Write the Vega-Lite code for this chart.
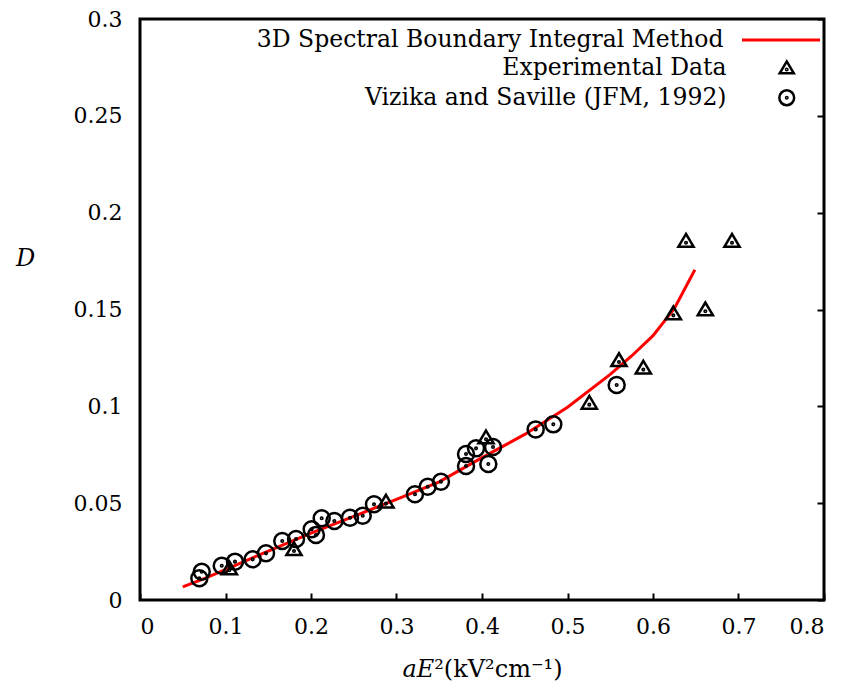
{
  "$schema": "https://vega.github.io/schema/vega-lite/v6.json",
  "width": 684,
  "height": 581,
  "autosize": {"type": "none"},
  "padding": {"left": 140, "top": 19, "right": 26, "bottom": 90},
  "background": "white",
  "config": {
    "view": {"stroke": "#000000", "strokeWidth": 3},
    "axis": {"grid": true, "gridColor": "#000000", "gridOpacity": 1, "gridWidth": 2, "gridDash": [7, 2000], "domain": false, "ticks": false, "tickSize": 0, "labelColor": "#000000", "titleColor": "#000000", "labelFont": "DejaVu Serif", "titleFont": "DejaVu Serif", "labelFontSize": 22, "titleFontSize": 24, "titleFontWeight": "normal"},
    "legend": {"labelFont": "DejaVu Serif", "labelFontSize": 23.5, "labelColor": "#000000", "padding": 0, "title": null}
  },
  "datasets": {
    "curve": [
      {"x": 0.05, "D": 0.0068}, {"x": 0.075, "D": 0.011}, {"x": 0.1, "D": 0.0157},
      {"x": 0.15, "D": 0.0253}, {"x": 0.2, "D": 0.0345}, {"x": 0.25, "D": 0.0432},
      {"x": 0.3, "D": 0.052}, {"x": 0.35, "D": 0.061}, {"x": 0.4, "D": 0.0735},
      {"x": 0.45, "D": 0.0855}, {"x": 0.5, "D": 0.0995}, {"x": 0.55, "D": 0.1165},
      {"x": 0.575, "D": 0.126}, {"x": 0.6, "D": 0.1365}, {"x": 0.625, "D": 0.1505},
      {"x": 0.649, "D": 0.1705}
    ],
    "points": [
      {"series": "Experimental Data", "x": 0.1045, "D": 0.0164},
      {"series": "Experimental Data", "x": 0.1801, "D": 0.0263},
      {"series": "Experimental Data", "x": 0.2877, "D": 0.0508},
      {"series": "Experimental Data", "x": 0.4047, "D": 0.084},
      {"series": "Experimental Data", "x": 0.5255, "D": 0.1019},
      {"series": "Experimental Data", "x": 0.5602, "D": 0.1239},
      {"series": "Experimental Data", "x": 0.5887, "D": 0.12},
      {"series": "Experimental Data", "x": 0.6238, "D": 0.148},
      {"series": "Experimental Data", "x": 0.6612, "D": 0.1501},
      {"series": "Experimental Data", "x": 0.6386, "D": 0.1855},
      {"series": "Experimental Data", "x": 0.6924, "D": 0.1855},
      {"series": "Vizika and Saville (JFM, 1992)", "x": 0.0694, "D": 0.0112},
      {"series": "Vizika and Saville (JFM, 1992)", "x": 0.0722, "D": 0.0146},
      {"series": "Vizika and Saville (JFM, 1992)", "x": 0.0956, "D": 0.0177},
      {"series": "Vizika and Saville (JFM, 1992)", "x": 0.1111, "D": 0.0198},
      {"series": "Vizika and Saville (JFM, 1992)", "x": 0.1318, "D": 0.021},
      {"series": "Vizika and Saville (JFM, 1992)", "x": 0.1474, "D": 0.0241},
      {"series": "Vizika and Saville (JFM, 1992)", "x": 0.1664, "D": 0.0305},
      {"series": "Vizika and Saville (JFM, 1992)", "x": 0.1825, "D": 0.0315},
      {"series": "Vizika and Saville (JFM, 1992)", "x": 0.2008, "D": 0.0365},
      {"series": "Vizika and Saville (JFM, 1992)", "x": 0.2058, "D": 0.0336},
      {"series": "Vizika and Saville (JFM, 1992)", "x": 0.2125, "D": 0.0422},
      {"series": "Vizika and Saville (JFM, 1992)", "x": 0.2273, "D": 0.0408},
      {"series": "Vizika and Saville (JFM, 1992)", "x": 0.2456, "D": 0.0425},
      {"series": "Vizika and Saville (JFM, 1992)", "x": 0.2605, "D": 0.0435},
      {"series": "Vizika and Saville (JFM, 1992)", "x": 0.2737, "D": 0.0494},
      {"series": "Vizika and Saville (JFM, 1992)", "x": 0.3216, "D": 0.0546},
      {"series": "Vizika and Saville (JFM, 1992)", "x": 0.3365, "D": 0.0585},
      {"series": "Vizika and Saville (JFM, 1992)", "x": 0.352, "D": 0.0611},
      {"series": "Vizika and Saville (JFM, 1992)", "x": 0.3813, "D": 0.0692},
      {"series": "Vizika and Saville (JFM, 1992)", "x": 0.3813, "D": 0.0754},
      {"series": "Vizika and Saville (JFM, 1992)", "x": 0.393, "D": 0.0783},
      {"series": "Vizika and Saville (JFM, 1992)", "x": 0.4074, "D": 0.0702},
      {"series": "Vizika and Saville (JFM, 1992)", "x": 0.4129, "D": 0.079},
      {"series": "Vizika and Saville (JFM, 1992)", "x": 0.4628, "D": 0.0881},
      {"series": "Vizika and Saville (JFM, 1992)", "x": 0.4834, "D": 0.0907},
      {"series": "Vizika and Saville (JFM, 1992)", "x": 0.5575, "D": 0.111}
    ]
  },
  "layer": [
    {
      "data": {"name": "curve"},
      "mark": {"type": "line", "strokeWidth": 3},
      "encoding": {
        "x": {"field": "x", "type": "quantitative", "scale": {"domain": [0, 0.8], "nice": false, "zero": false},
              "axis": {"orient": "top", "title": null, "labels": false, "values": [0, 0.1, 0.2, 0.3, 0.4, 0.5, 0.6, 0.7, 0.8]}},
        "y": {"field": "D", "type": "quantitative", "scale": {"domain": [0, 0.3], "nice": false, "zero": false},
              "axis": {"orient": "right", "title": null, "labels": false, "values": [0, 0.05, 0.1, 0.15, 0.2, 0.25, 0.3]}},
        "color": {"datum": "3D Spectral Boundary Integral Method", "type": "nominal",
                  "scale": {"domain": ["3D Spectral Boundary Integral Method"], "range": ["#ff0000"]},
                  "legend": {"orient": "none", "legendX": 600.5, "legendY": -19.5, "direction": "vertical", "columns": 1,
                             "symbolType": "stroke", "symbolSize": 6084, "symbolStrokeWidth": 3,
                             "labelAlign": "right", "labelOffset": -98, "labelLimit": 0}}
      }
    },
    {
      "data": {"name": "points"},
      "mark": {"type": "point", "filled": false, "size": 256, "strokeWidth": 2.5, "color": "#000000", "opacity": 1},
      "encoding": {
        "x": {"field": "x", "type": "quantitative",
              "axis": {"orient": "bottom", "title": "𝑎𝐸²(kV²cm⁻¹)", "values": [0, 0.1, 0.2, 0.3, 0.4, 0.5, 0.6, 0.7, 0.8], "format": ".1~f", "labelPadding": 16, "titlePadding": 20}},
        "y": {"field": "D", "type": "quantitative",
              "axis": {"orient": "left", "title": "D", "titleFontStyle": "italic", "titleAngle": 0, "titleX": -115, "titleY": 239, "titleAlign": "center", "titleBaseline": "middle", "values": [0, 0.05, 0.1, 0.15, 0.2, 0.25, 0.3], "format": ".2~f", "labelPadding": 18}},
        "shape": {
          "field": "series", "type": "nominal",
          "scale": {
            "domain": ["Experimental Data", "Vizika and Saville (JFM, 1992)"],
            "range": ["M0,-0.85L0.95,0.75L-0.95,0.75ZM-0.1,0.25A0.1,0.1,0,1,0,0.1,0.25A0.1,0.1,0,1,0,-0.1,0.25Z",
                      "M-1,0A1,1,0,1,0,1,0A1,1,0,1,0,-1,0ZM-0.1,0A0.1,0.1,0,1,0,0.1,0A0.1,0.1,0,1,0,-0.1,0Z"]
          },
          "legend": {
            "orient": "none", "legendX": 635, "legendY": 37, "direction": "vertical", "columns": 1,
            "symbolSize": 220, "symbolStrokeWidth": 2.5, "symbolStrokeColor": "#000000", "symbolFillColor": "transparent", "rowPadding": 5,
            "labelAlign": "right", "labelOffset": -72, "labelLimit": 0
          }
        }
      }
    }
  ],
  "resolve": {"axis": {"x": "independent", "y": "independent"}}
}
